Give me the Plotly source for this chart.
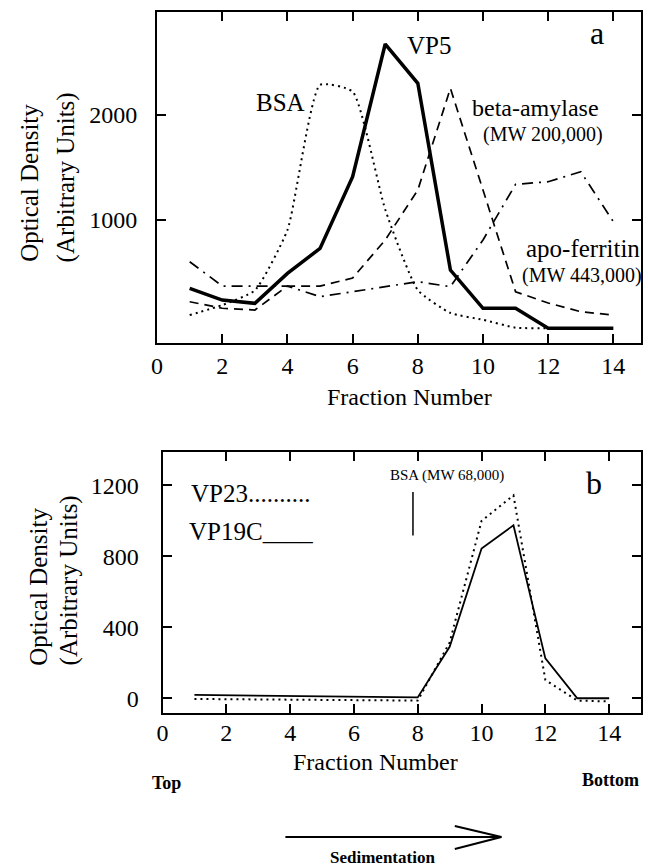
import plotly.graph_objects as go

W, H = 648, 867
FONT = "Liberation Serif, Times New Roman, Tinos, serif"

# ---------------- data ----------------
fractions = list(range(1, 15))

# panel a
vp5 = [349, 238, 207, 492, 730, 1412, 2676, 2302, 524, 159, 159, -30, -30, -30]
bsa = [95, 190, 330, 905, 2286, 2222, 1100, 333, 115, 50, -25, -30, -30, -30]
beta_amylase = [222, 160, 143, 371, 371, 448, 810, 1286, 2254, 1290, 317, 210, 127, 95]
apo_ferritin = [603, 371, 371, 371, 270, 318, 365, 413, 365, 810, 1340, 1365, 1460, 984]

# panel b
vp19c = [19, 17, 15, 13, 11, 9, 7, 5, 290, 844, 975, 225, 0, 0]
vp23 = [-4, -5, -6, -8, -9, -10, -12, -13, 315, 1000, 1144, 103, -13, -18]

x_ticks = [0, 2, 4, 6, 8, 10, 12, 14]
y_ticks_a = [1000, 2000]
y_ticks_b = [0, 400, 800, 1200]

bsa_marker_fraction = 7.85
bsa_marker_range = [918, 1162]


def px(x):
    return x / W


def py(y):
    return 1 - y / H


fig = go.Figure()

# panel a traces
fig.add_trace(go.Scatter(x=fractions, y=bsa, mode="lines", xaxis="x", yaxis="y",
                         line=dict(color="black", width=2, dash="2px,4px", shape="spline", smoothing=0.5)))
fig.add_trace(go.Scatter(x=fractions, y=beta_amylase, mode="lines", xaxis="x", yaxis="y",
                         line=dict(color="black", width=1.7, dash="9px,6px")))
fig.add_trace(go.Scatter(x=fractions, y=apo_ferritin, mode="lines", xaxis="x", yaxis="y",
                         line=dict(color="black", width=1.7, dash="11px,6px,2px,6px")))
fig.add_trace(go.Scatter(x=fractions, y=vp5, mode="lines", xaxis="x", yaxis="y",
                         line=dict(color="black", width=3.5)))

# panel b traces
fig.add_trace(go.Scatter(x=fractions, y=vp23, mode="lines", xaxis="x2", yaxis="y2",
                         line=dict(color="black", width=2, dash="2px,4px")))
fig.add_trace(go.Scatter(x=fractions, y=vp19c, mode="lines", xaxis="x2", yaxis="y2",
                         line=dict(color="black", width=1.8)))

axis_common = dict(showline=True, linewidth=2, linecolor="black", mirror="ticks",
                   ticks="inside", ticklen=9, tickwidth=1.5, tickcolor="black",
                   showgrid=False, zeroline=False,
                   tickfont=dict(family=FONT, size=24, color="black"))

fig.update_layout(
    width=W, height=H,
    margin=dict(l=0, r=0, t=0, b=0),
    paper_bgcolor="white", plot_bgcolor="white",
    showlegend=False,
    font=dict(family=FONT, color="black"),
    xaxis=dict(axis_common, domain=[px(152.5), px(641)], range=[0, 14.85],
               tickvals=x_ticks, anchor="y", ticklabelstandoff=0),
    yaxis=dict(axis_common, domain=[py(343), py(12)], range=[-171, 2981],
               tickvals=y_ticks_a, anchor="x", ticklabelstandoff=13),
    xaxis2=dict(axis_common, domain=[px(158), px(641)], range=[0, 15],
                tickvals=x_ticks, anchor="y2", ticklabelstandoff=-3),
    yaxis2=dict(axis_common, domain=[py(713), py(452)], range=[-83, 1388],
                tickvals=y_ticks_b, anchor="x2", ticklabelstandoff=17),
)


def label(text, x, y, size, xanchor="center", angle=0, bold=False):
    if bold:
        text = "<b>" + text + "</b>"
    fig.add_annotation(text=text, x=px(x), y=py(y), xref="paper", yref="paper",
                       xanchor=xanchor, yanchor="middle", showarrow=False,
                       textangle=angle,
                       font=dict(family=FONT, size=size, color="black"))


# panel a labels
label("VP5", 427, 45, 25)
label("BSA", 277, 102, 25)
label("beta-amylase", 468, 108, 24, xanchor="left")
label("(MW 200,000)", 542, 135, 20)
label("apo-ferritin", 523, 248, 25, xanchor="left")
label("(MW 443,000)", 519, 275, 20, xanchor="left")
label("a", 597, 33, 32)
label("Fraction Number", 407, 397, 24)
label("Optical Density", 23, 183, 25, angle=-90)
label("(Arbitrary Units)", 61, 177, 25, angle=-90)

# panel b labels
label("VP23..........", 185, 493, 25, xanchor="left")
label("VP19C____", 183, 531, 25, xanchor="left")
label("BSA (MW 68,000)", 445, 475, 15)
label("b", 593, 483, 32)
label("Fraction Number", 373, 762, 24)
label("Optical Density", 32, 587, 25, angle=-90)
label("(Arbitrary Units)", 64, 580, 25, angle=-90)
label("Top", 162, 783, 18, bold=True)
label("Bottom", 610, 780, 18, bold=True)
label("Sedimentation", 380, 857, 17, bold=True)

# BSA position marker in panel b
fig.add_shape(type="line", xref="x2", yref="y2",
              x0=bsa_marker_fraction, x1=bsa_marker_fraction,
              y0=bsa_marker_range[0], y1=bsa_marker_range[1],
              line=dict(color="black", width=1.5))

# sedimentation arrow
fig.add_shape(type="line", xref="paper", yref="paper",
              x0=px(282), x1=px(500), y0=py(837), y1=py(837),
              line=dict(color="black", width=2))
fig.add_shape(type="path", xref="paper", yref="paper",
              path=f"M {px(453)} {py(826)} L {px(500)} {py(837)} L {px(453)} {py(849)}",
              line=dict(color="black", width=2))

fig.write_html("out.html",
               config={"displayModeBar": False},
               post_script="document.body.style.margin='0';document.body.style.overflow='hidden';")
